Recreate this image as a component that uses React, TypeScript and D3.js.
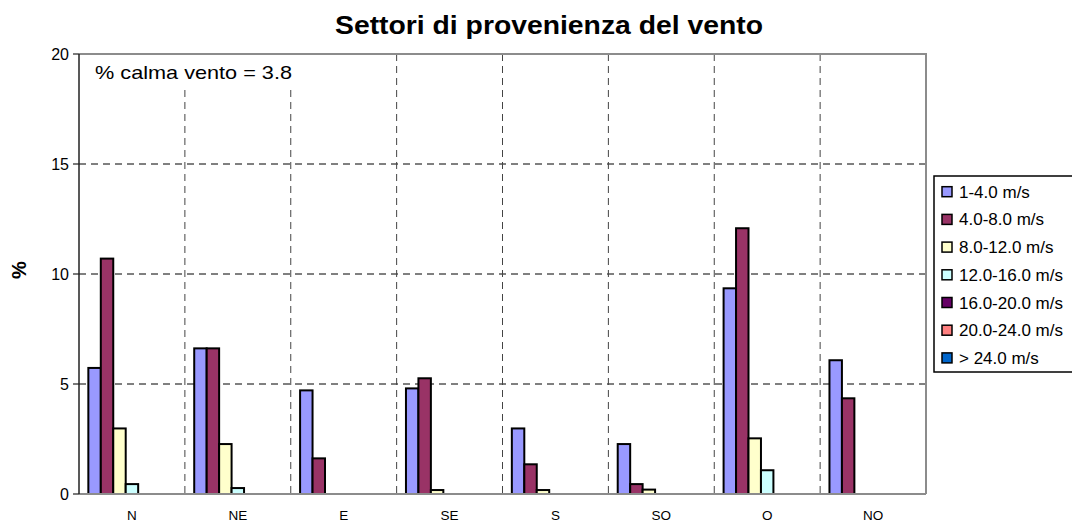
import React from "react";
import * as d3 from "d3";

const categories = ["N", "NE", "E", "SE", "S", "SO", "O", "NO"];
const seriesNames = ["1-4.0 m/s", "4.0-8.0 m/s", "8.0-12.0 m/s", "12.0-16.0 m/s", "16.0-20.0 m/s", "20.0-24.0 m/s", "> 24.0 m/s"];
const seriesColors = ["#9999FF", "#993366", "#FFFFCC", "#CCFFFF", "#660066", "#FF8080", "#0066CC"];
const s1 = [5.73, 6.62, 4.71, 4.8, 2.98, 2.27, 9.35, 6.08];
const s2 = [10.7, 6.62, 1.62, 5.26, 1.35, 0.45, 12.08, 4.35];
const s3 = [2.98, 2.27, 0, 0.18, 0.18, 0.2, 2.53, 0];
const s4 = [0.45, 0.27, 0, 0, 0, 0, 1.08, 0];
const s5 = [0, 0, 0, 0, 0, 0, 0, 0];
const s6 = [0, 0, 0, 0, 0, 0, 0, 0];
const s7 = [0, 0, 0, 0, 0, 0, 0, 0];
const seriesValues = [s1, s2, s3, s4, s5, s6, s7];
const yTicks = [0, 5, 10, 15, 20];
const title = "Settori di provenienza del vento";
const note = "% calma vento = 3.8";

const W = 1072, H = 525;
const M = { left: 79, right: 926, top: 54, bottom: 494 };
const FONT = "'Liberation Sans', Arial, sans-serif";

export default function App() {
  const x0 = d3.scaleBand<string>().domain(categories).range([M.left, M.right]).paddingInner(0).paddingOuter(0);
  const bw = x0.bandwidth();
  const off = (bw * 0.75) / 8.5;
  const x1 = d3.scaleBand<string>().domain(seriesNames).range([off, bw - off]).padding(0);
  const y = d3.scaleLinear().domain([0, 20]).range([M.bottom, M.top]);

  return (
    <svg width={W} height={H} style={{ position: "absolute", left: 0, top: 0, background: "#fff" }} fontFamily={FONT}>
      <rect x={0} y={0} width={W} height={H} fill="#fff" />
      {/* title */}
      <text x={549} y={34} textAnchor="middle" fontWeight="bold" fontSize={26} textLength={428} lengthAdjust="spacingAndGlyphs">{title}</text>
      {/* horizontal grid */}
      {yTicks.filter((t) => t > 0 && t < 20).map((t) => (
        <line key={"h" + t} x1={M.left} x2={M.right} y1={y(t)} y2={y(t)} stroke="#000" strokeWidth={1} strokeDasharray="7,5" />
      ))}
      {/* vertical grid */}
      {categories.slice(1).map((c) => (
        <line key={"v" + c} x1={x0(c)!} x2={x0(c)!} y1={M.top} y2={M.bottom} stroke="#444" strokeWidth={1} strokeDasharray="7,5" />
      ))}
      {/* note box */}
      <rect x={M.left + 1} y={M.top + 1} width={240} height={32} fill="#fff" />
      <text x={95} y={79} fontSize={19} textLength={197} lengthAdjust="spacingAndGlyphs">{note}</text>
      {/* plot border top/right */}
      <path d={`M${M.left},${M.top}H${M.right}V${M.bottom}`} fill="none" stroke="#8c8c8c" strokeWidth={2} />
      {/* bars */}
      {categories.map((c, ci) => (
        <g key={c} transform={`translate(${x0(c)},0)`}>
          {seriesNames.map((s, si) => {
            const v = seriesValues[si][ci];
            if (v <= 0) return null;
            return (
              <rect key={s} x={x1(s)!} y={y(v)} width={x1.bandwidth()} height={y(0) - y(v)} fill={seriesColors[si]} stroke="#000" strokeWidth={2} />
            );
          })}
        </g>
      ))}
      {/* x axis */}
      <line x1={M.left} x2={M.right} y1={M.bottom} y2={M.bottom} stroke="#8c8c8c" strokeWidth={2} />
      {categories.map((c) => (
        <text key={"xl" + c} x={x0(c)! + bw / 2} y={520} textAnchor="middle" fontSize={13.5}>{c}</text>
      ))}
      {/* y axis */}
      <line x1={M.left} x2={M.left} y1={M.top} y2={M.bottom} stroke="#222" strokeWidth={1.5} />
      {yTicks.map((t) => (
        <g key={"yt" + t}>
          <line x1={M.left - 6} x2={M.left} y1={y(t)} y2={y(t)} stroke="#222" strokeWidth={1.2} />
          <text x={69} y={y(t) + 5.5} textAnchor="end" fontSize={16}>{t}</text>
        </g>
      ))}
      <text transform={`translate(26,270) rotate(-90)`} textAnchor="middle" fontWeight="bold" fontSize={20}>%</text>
      {/* legend */}
      <rect x={934} y={176} width={150} height={196} fill="#fff" stroke="#000" strokeWidth={1.5} />
      {seriesNames.map((s, i) => {
        const cy = 191.7 + i * 27.7;
        return (
          <g key={"lg" + s}>
            <rect x={942} y={cy - 5} width={10} height={10} fill={seriesColors[i]} stroke="#000" strokeWidth={1.5} />
            <text x={959} y={cy + 6} fontSize={17}>{s}</text>
          </g>
        );
      })}
    </svg>
  );
}
